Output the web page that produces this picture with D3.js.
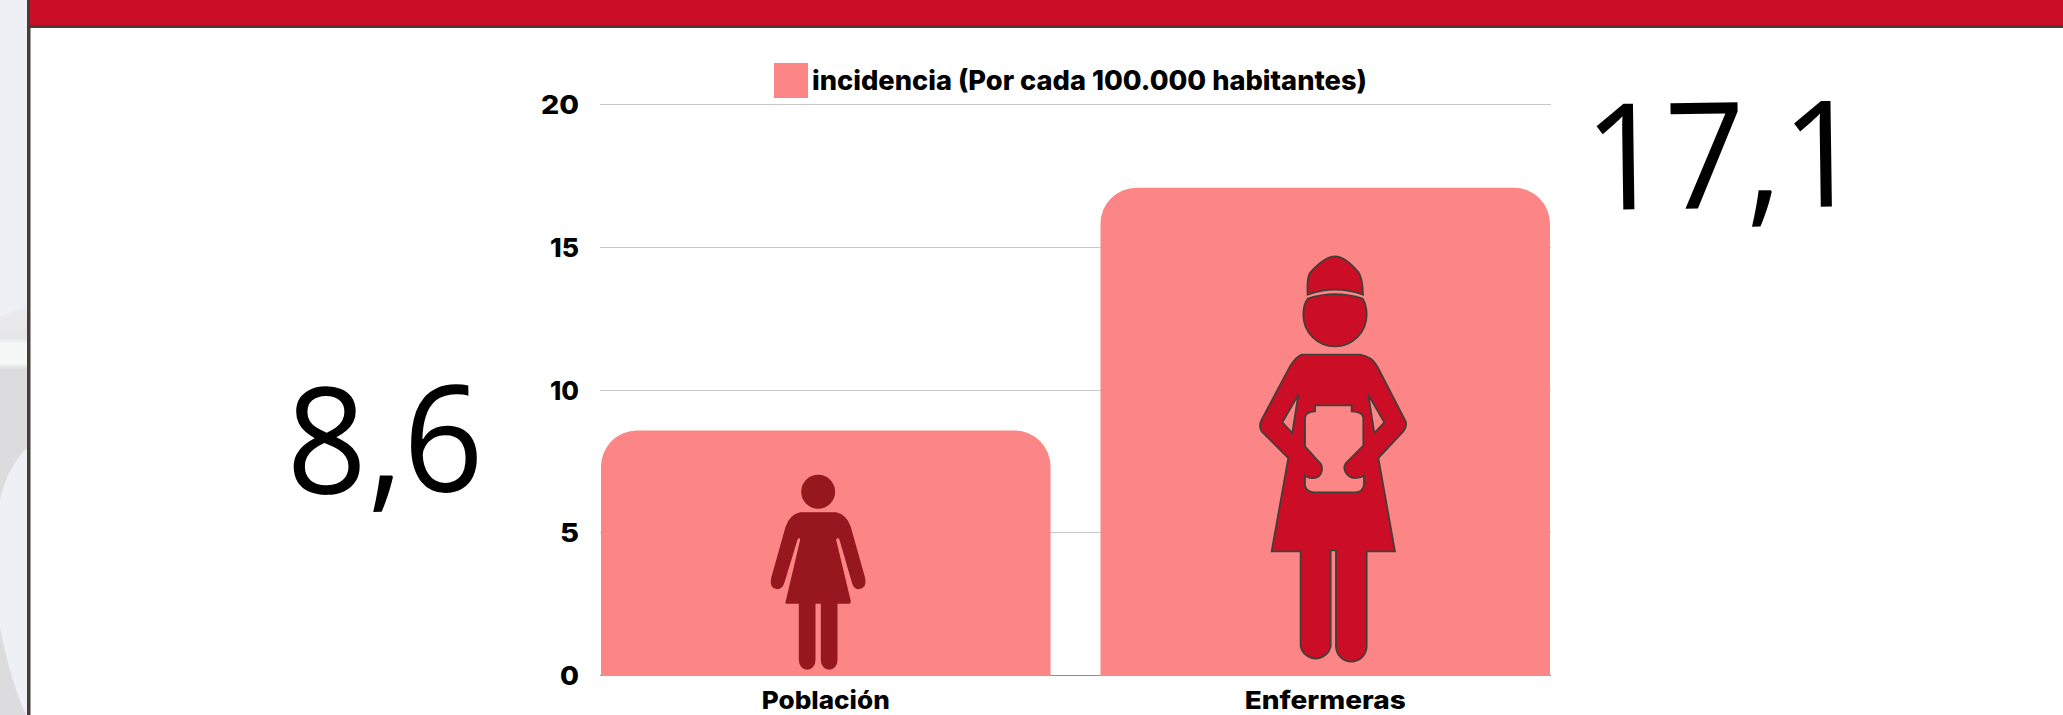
<!DOCTYPE html>
<html>
<head>
<meta charset="utf-8">
<title>Incidencia</title>
<script src="https://d3js.org/d3.v7.min.js"></script>
<style>
  body { margin: 0; background: #fff; overflow: hidden; }
  svg { display: block; }
  .lbl { font-family: "Inter", "Noto Sans", sans-serif; font-weight: 800; fill: #000; }
  .big { font-family: "Open Sans", "Noto Sans", sans-serif; font-weight: 400; fill: #000; }
</style>
</head>
<body>
<script>
var categories = ["Población", "Enfermeras"];
var incidencia = [8.6, 17.1];
var valueLabels = ["8,6", "17,1"];
var yTicks = [0, 5, 10, 15, 20];
var legendLabel = "incidencia (Por cada 100.000 habitantes)";

var w = 2063, h = 715;
var svg = d3.select("body").append("svg").attr("width", w).attr("height", h);

// page background behind the panel
var grad = svg.append("defs").append("linearGradient").attr("id", "strip")
  .attr("x1", 0).attr("x2", 0).attr("y1", 0).attr("y2", 1);
grad.append("stop").attr("offset", 0).attr("stop-color", "#ececee");
grad.append("stop").attr("offset", 0.17).attr("stop-color", "#e6e6e8");
grad.append("stop").attr("offset", 0.2).attr("stop-color", "#f6f7f7");
grad.append("stop").attr("offset", 0.3).attr("stop-color", "#f6f7f7");
grad.append("stop").attr("offset", 0.33).attr("stop-color", "#dcdcde");
grad.append("stop").attr("offset", 1).attr("stop-color", "#dcdcde");

svg.append("rect").attr("width", 28).attr("height", h).attr("fill", "#eff0f6");
svg.append("path").attr("d", "M0,317 L28,305 L28,447 Q8,465 0,500 Z").attr("fill", "url(#strip)");
svg.append("path").attr("d", "M0,627 Q10,680 26,715 L0,715 Z").attr("fill", "#dcdcde");
svg.append("rect").attr("x", 27).attr("width", 3.5).attr("height", h).attr("fill", "#453d39");
svg.append("rect").attr("x", 30).attr("width", w - 30).attr("height", 25).attr("fill", "#cb0e26");
svg.append("rect").attr("x", 27).attr("y", 25).attr("width", w - 27).attr("height", 3).attr("fill", "#453d39");

var x = d3.scaleBand().domain(categories).range([601, 1550]).paddingInner(0.1);
var y = d3.scaleLinear().domain([0, 20]).range([676, 105]);
var r = 36;

// grid
svg.append("g").selectAll("line").data(yTicks).enter().append("line")
  .attr("x1", 600).attr("x2", 1551)
  .attr("y1", function (d) { return Math.round(y(d)) - 0.5; })
  .attr("y2", function (d) { return Math.round(y(d)) - 0.5; })
  .attr("stroke", function (d) { return d === 0 ? "#8c8c8c" : "#c8c8c8"; })
  .attr("stroke-width", 1);

// tick labels
var tickWidths = { 0: 19, 5: 19, 10: 29, 15: 29, 20: 38 };
svg.append("g").selectAll("text").data(yTicks).enter().append("text")
  .attr("class", "lbl")
  .attr("x", 579).attr("y", function (d) { return y(d) + 9; })
  .attr("text-anchor", "end")
  .attr("font-size", 26)
  .attr("textLength", function (d) { return tickWidths[d]; })
  .attr("lengthAdjust", "spacingAndGlyphs")
  .text(function (d) { return d; });

// bars, rounded on top only
svg.append("g").selectAll("path").data(incidencia).enter().append("path")
  .attr("fill", "#fc8686")
  .attr("d", function (d, i) {
    var p = d3.path(), x0 = x(categories[i]), x1 = x0 + x.bandwidth(), top = y(d), base = y(0);
    p.moveTo(x0, base);
    p.lineTo(x0, top + r);
    p.arcTo(x0, top, x0 + r, top, r);
    p.lineTo(x1 - r, top);
    p.arcTo(x1, top, x1, top + r, r);
    p.lineTo(x1, base);
    p.closePath();
    return p.toString();
  });

// pictograms, drawn in a zoomed local frame (3 units per pixel) with x=0 at the figure centre
var womanBody = "M-54,-491 L54,-491 Q86,-484 98,-447 L141,-294 Q148,-264 121,-260 Q106,-259 100,-284 L64,-409 Q58,-419 54,-409 L98,-224 Q99,-217 91,-217 L58,-217 L58,-47 A25,28 0 0 1 8,-47 L8,-217 L-8,-217 L-8,-47 A25,28 0 0 1 -58,-47 L-58,-217 L-94,-217 Q-101,-217 -97,-226 L-54,-409 Q-56,-419 -62,-409 L-100,-284 Q-106,-259 -124,-260 Q-148,-264 -141,-294 L-98,-447 Q-86,-484 -54,-491 Z";
var nurseCap = "M-79,-820 Q-82,-875 -70,-888 Q-27,-935 3,-935 Q33,-935 73,-888 Q86,-870 87,-820 Q3,-850 -79,-820 Z";
var nurseHead = "M-79,-808 Q3,-835 86,-808 Q98,-790 98,-760 A95,95 0 0 1 -92,-760 Q-92,-790 -79,-808 Z";
var nurseBody = "M-97,-640 L78,-640 Q113,-635 130,-605 L215,-440 Q220,-425 208,-410 L133,-330 L183,-50 L98,-50 L98,235 A46,46 0 0 1 6,235 L6,-53 L-10,-53 L-10,235 A46,46 0 0 1 -100,235 L-100,-50 L-187,-50 L-137,-330 L-217,-410 Q-227,-425 -217,-445 L-132,-605 Q-112,-635 -97,-640 Z";
var nurseHoles = "M-107,-520 L-155,-437 L-125,-405 Z M103,-520 L151,-437 L121,-405 Z M-57,-488 L53,-488 L53,-470 Q88,-468 88,-450 L88,-367 L36,-315 C24,-300 36,-270 63,-270 Q80,-270 90,-277 L90,-250 Q88,-227 63,-227 L-60,-227 Q-87,-230 -87,-250 L-87,-277 Q-72,-268 -62,-270 C-35,-270 -28,-305 -47,-320 L-87,-365 L-87,-450 Q-87,-468 -57,-470 Z";

var iconData = [
  { i: 0, dx: -7.6, lift: 0, shapes: [womanBody], fill: "#96171d", stroke: "none" },
  { i: 1, dx: 8.75, lift: 108, shapes: [nurseCap, nurseHead, nurseBody + " " + nurseHoles], fill: "#cb0e26", stroke: "#453d39" }
];
var icons = svg.append("g").selectAll("g").data(iconData).enter().append("g")
  .attr("transform", function (d) {
    return "translate(" + (x(categories[d.i]) + x.bandwidth() / 2 + d.dx) + "," + (y(0) - d.lift) + ") scale(0.3333)";
  });
icons.selectAll("path").data(function (d) { return d.shapes.map(function (s) { return { s: s, d: d }; }); })
  .enter().append("path")
  .attr("d", function (e) { return e.s; })
  .attr("fill-rule", "evenodd")
  .attr("fill", function (e) { return e.d.fill; })
  .attr("stroke", function (e) { return e.d.stroke; })
  .attr("stroke-width", 5.5);
icons.filter(function (d) { return d.i === 0; }).append("circle")
  .attr("cy", -553).attr("r", 51).attr("fill", "#96171d");

// category labels
var catWidths = [128, 161];
svg.append("g").selectAll("text").data(categories).enter().append("text")
  .attr("class", "lbl")
  .attr("x", function (d) { return x(d) + x.bandwidth() / 2; })
  .attr("y", 708.5)
  .attr("text-anchor", "middle")
  .attr("font-size", 25)
  .attr("textLength", function (d, i) { return catWidths[i]; })
  .attr("lengthAdjust", "spacingAndGlyphs")
  .text(function (d) { return d; });

// legend
svg.append("rect").attr("x", 774).attr("y", 63).attr("width", 34).attr("height", 35).attr("fill", "#fc8686");
svg.append("text").attr("class", "lbl")
  .attr("x", 812).attr("y", 90)
  .attr("font-size", 27)
  .attr("textLength", 555)
  .attr("lengthAdjust", "spacingAndGlyphs")
  .text(legendLabel);

// big value labels, slightly tilted in the source image
var bigPos = [
  { x: 287, base: 494, width: 197 },
  { x: 1585, base: 210, width: 278 }
];
svg.append("g").selectAll("text").data(valueLabels).enter().append("text")
  .attr("class", "big")
  .attr("transform", function (d, i) { return "translate(" + bigPos[i].x + "," + bigPos[i].base + ") rotate(-0.8)"; })
  .attr("font-size", 148)
  .attr("textLength", function (d, i) { return bigPos[i].width; })
  .attr("lengthAdjust", "spacingAndGlyphs")
  .text(function (d) { return d; });
</script>
</body>
</html>
